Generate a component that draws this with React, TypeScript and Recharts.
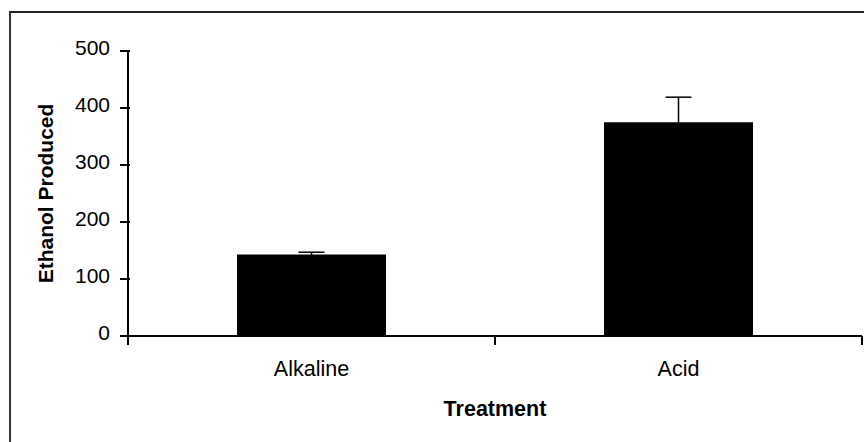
import { BarChart, Bar, XAxis, YAxis, ErrorBar, Label } from 'recharts';

const categories = ['Alkaline', 'Acid'];
const ethanol = [143, 375];
const errors = [4, 44];
const yTicks = [0, 100, 200, 300, 400, 500];
const xTicks = [0, 0.5, 1, 1.5, 2];

const data = categories.map((name, i) => ({
  name,
  pos: i + 0.5,
  ethanol: ethanol[i],
  err: errors[i],
}));

const FONT = '"Liberation Sans", Arial, sans-serif';

const XTick = ({ x, y, payload }: any) => {
  const v = payload.value;
  if (Number.isInteger(v)) {
    return <line x1={x} y1={y} x2={x} y2={y + 9} stroke="#000" strokeWidth={2} />;
  }
  return (
    <text x={x} y={y + 40} textAnchor="middle" fontSize={21.5} fontFamily={FONT} fill="#000">
      {categories[Math.floor(v)]}
    </text>
  );
};

const YTick = ({ x, y, payload }: any) => (
  <g>
    <line x1={x - 8} y1={y} x2={x + 2} y2={y} stroke="#000" strokeWidth={2} />
    <text x={x - 18} y={y + 4} textAnchor="end" fontSize={21} fontFamily={FONT} fill="#000">
      {payload.value}
    </text>
  </g>
);

const XTitle = ({ viewBox }: any) => (
  <text
    x={viewBox.x + viewBox.width / 2}
    y={viewBox.y + 80}
    textAnchor="middle"
    fontSize={21.5}
    fontWeight="bold"
    fontFamily={FONT}
    fill="#000"
  >
    Treatment
  </text>
);

const YTitle = ({ viewBox }: any) => {
  const cx = 53;
  const cy = viewBox.y + viewBox.height / 2;
  return (
    <text
      x={cx}
      y={cy}
      transform={`rotate(-90, ${cx}, ${cy})`}
      textAnchor="middle"
      fontSize={21}
      fontWeight="bold"
      fontFamily={FONT}
      fill="#000"
    >
      Ethanol Produced
    </text>
  );
};

export default function App() {
  return (
    <div style={{ position: 'fixed', left: 0, top: 0, width: 864, height: 442, overflow: 'hidden', background: '#fff' }}>
      <div
        style={{
          position: 'absolute',
          left: 9,
          top: 11,
          width: 900,
          height: 500,
          borderLeft: '2px solid #333',
          borderTop: '2px solid #222',
        }}
      />
      <div style={{ position: 'absolute', left: 0, top: 0 }}>
        <BarChart width={864} height={442} data={data} margin={{ top: 51, right: 2, bottom: 36, left: 48 }}>
          <XAxis
            dataKey="pos"
            type="number"
            domain={[0, 2]}
            ticks={xTicks}
            interval={0}
            tickLine={false}
            tickSize={0}
            tickMargin={0}
            tick={<XTick />}
            axisLine={{ stroke: '#000', strokeWidth: 2 }}
            height={70}
          >
            <Label content={<XTitle />} />
          </XAxis>
          <YAxis
            type="number"
            domain={[0, 500]}
            ticks={yTicks}
            interval={0}
            tickLine={false}
            tickSize={0}
            tickMargin={0}
            tick={<YTick />}
            axisLine={{ stroke: '#000', strokeWidth: 2 }}
            width={80}
          >
            <Label content={<YTitle />} />
          </YAxis>
          <Bar dataKey="ethanol" fill="#000" barSize={149} isAnimationActive={false}>
            <ErrorBar dataKey="err" width={13} stroke="#000" strokeWidth={1.5} direction="y" />
          </Bar>
        </BarChart>
      </div>
    </div>
  );
}
